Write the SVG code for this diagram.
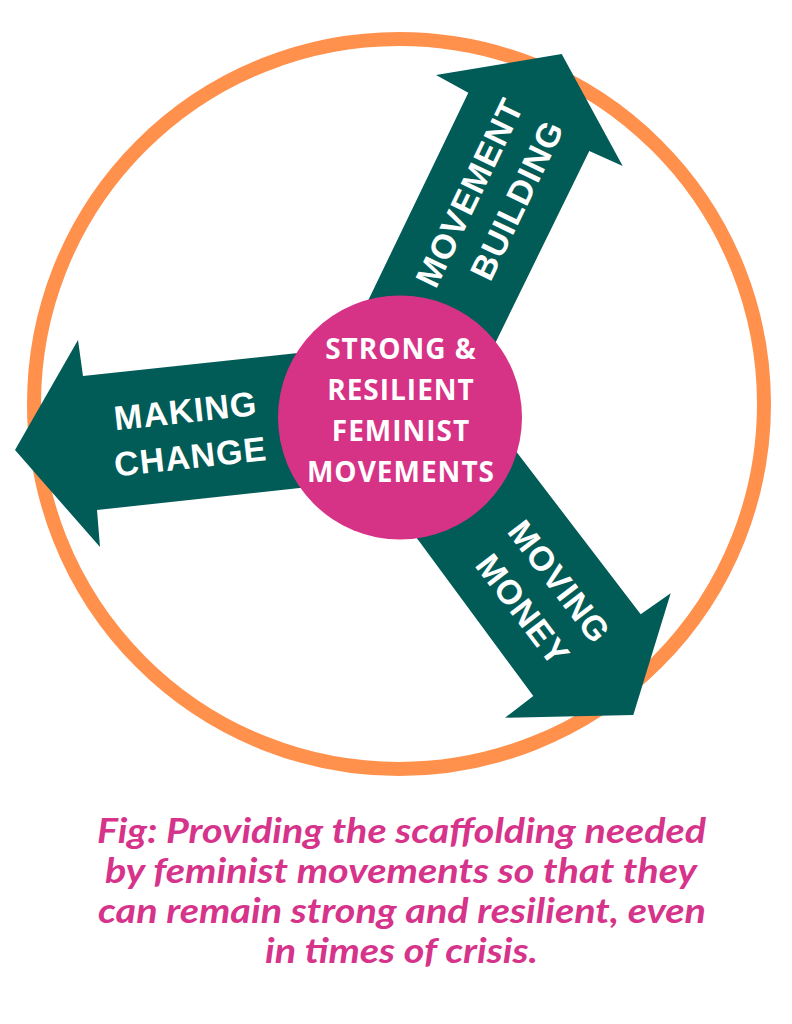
<svg xmlns="http://www.w3.org/2000/svg" width="792" height="1024" viewBox="0 0 792 1024">
  <style>
    .arrow { fill: #015B57; }
    .albl { font-family: "Liberation Sans", Arial, sans-serif; font-weight: bold; font-size: 34px; fill: #FFFFFF; text-anchor: middle; letter-spacing: 1px; }
    .clbl { font-family: "Open Sans", "Liberation Sans", sans-serif; font-weight: bold; font-size: 28px; fill: #FFFFFF; text-anchor: middle; letter-spacing: 1px; }
    .cap { font-family: "Lato", "Open Sans", sans-serif; font-weight: bold; font-style: italic; font-size: 35px; fill: #D6338A; text-anchor: middle; }
  </style>
  <rect width="792" height="1024" fill="#FFFFFF"/>
  <g id="ring">
    <circle cx="399" cy="404" r="365" fill="none" stroke="#FF914D" stroke-width="14"/>
  </g>
  <g id="connectors">
    <g id="arrow-making-change">
      <polygon class="arrow" points="400,342 83,376 78,340 15,450 100,547 97,510 400,477"/>
      <g transform="translate(188,433) rotate(-6.2)">
        <text class="albl" x="0" y="-10.5">MAKING</text>
        <text class="albl" x="0" y="35.5">CHANGE</text>
      </g>
    </g>
    <g id="arrow-movement-building">
      <polygon class="arrow" points="312,417 468.3,92.7 436,75 561.7,54 622.7,166 589.3,151 459,417"/>
      <g transform="translate(492.5,196) rotate(-64.3)">
        <text class="albl" x="-7" y="-10.5">MOVEMENT</text>
        <text class="albl" x="7" y="35.5">BUILDING</text>
      </g>
    </g>
    <g id="arrow-moving-money">
      <polygon class="arrow" points="489.8,417 640.7,614.3 670.7,593.3 633.3,715 505,717.7 533.3,696 374,480"/>
      <g transform="translate(541.7,595.4) rotate(52.6)">
        <text class="albl" x="0" y="-10.5">MOVING</text>
        <text class="albl" x="0" y="35.5">MONEY</text>
      </g>
    </g>
  </g>
  <g id="center-node">
    <circle cx="400" cy="417.5" r="122" fill="#D63387"/>
    <text class="clbl" x="401" y="359">STRONG &amp;</text>
    <text class="clbl" x="401" y="400">RESILIENT</text>
    <text class="clbl" x="401" y="441">FEMINIST</text>
    <text class="clbl" x="401" y="482">MOVEMENTS</text>
  </g>
  <g id="caption">
    <text class="cap" x="401.5" y="843" textLength="609" lengthAdjust="spacingAndGlyphs">Fig: Providing the scaffolding needed</text>
    <text class="cap" x="401" y="883" textLength="592" lengthAdjust="spacingAndGlyphs">by feminist movements so that they</text>
    <text class="cap" x="402" y="923" textLength="608" lengthAdjust="spacingAndGlyphs">can remain strong and resilient, even</text>
    <text class="cap" x="401.5" y="963" textLength="273" lengthAdjust="spacingAndGlyphs">in times of crisis.</text>
  </g>
</svg>
